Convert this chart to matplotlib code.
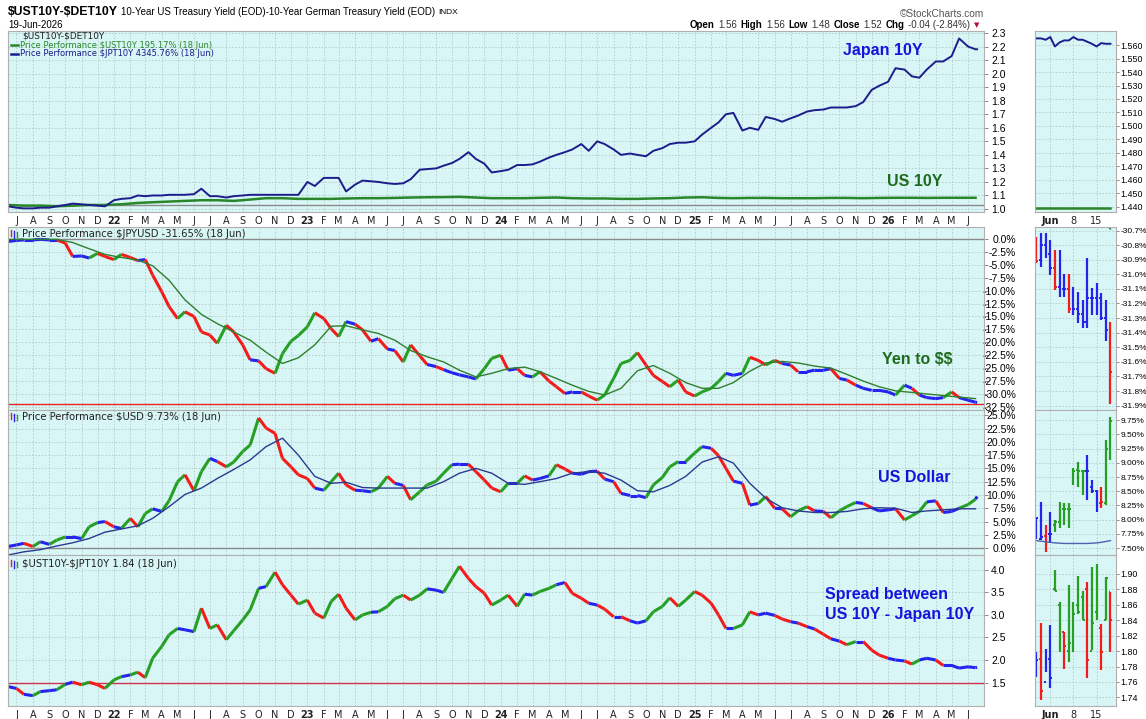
import matplotlib
matplotlib.use("Agg")
import matplotlib.pyplot as plt
import matplotlib.dates as mdates
from matplotlib.collections import LineCollection
from matplotlib.lines import Line2D
import numpy as np
import pandas as pd

plt.rcParams["font.family"] = ["Liberation Sans", "DejaVu Sans"]

# semi-monthly sample dates (1st / 15th) plus the last session
dates = list(pd.date_range("2021-06-15", "2026-06-15", freq="SMS")) + [pd.Timestamp("2026-06-18")]
month_dates = dates[:121:2]

# ---- top panel: yield performance lines (right axis units) ----
jp10 = [1.02, 1.01, 1.005, 1.005, 1.01, 1.01, 1.02, 1.03, 1.04, 1.035,
        1.03, 1.025, 1.02, 1.065, 1.075, 1.08, 1.10, 1.095, 1.10, 1.10,
        1.105, 1.105, 1.105, 1.11, 1.15, 1.095, 1.095, 1.085, 1.095, 1.10,
        1.105, 1.105, 1.105, 1.105, 1.105, 1.105, 1.105, 1.20, 1.17, 1.23,
        1.23, 1.23, 1.13, 1.18, 1.21, 1.205, 1.20, 1.19, 1.185, 1.19,
        1.22, 1.29, 1.295, 1.30, 1.32, 1.34, 1.37, 1.42, 1.37, 1.335,
        1.27, 1.28, 1.29, 1.325, 1.325, 1.33, 1.35, 1.38, 1.40, 1.42,
        1.44, 1.48, 1.43, 1.50, 1.48, 1.44, 1.40, 1.41, 1.40, 1.39,
        1.43, 1.45, 1.48, 1.49, 1.49, 1.50, 1.55, 1.60, 1.64, 1.70,
        1.71, 1.58, 1.60, 1.585, 1.68, 1.665, 1.645, 1.67, 1.69, 1.72,
        1.73, 1.735, 1.75, 1.75, 1.75, 1.76, 1.79, 1.88, 1.91, 1.94,
        2.04, 2.03, 1.98, 1.97, 2.03, 2.09, 2.09, 2.13, 2.26, 2.20,
        2.18, 2.18]
us10 = [1.03, 1.025, 1.025, 1.02, 1.025, 1.03, 1.03, 1.035, 1.045, 1.05,
        1.055, 1.06, 1.065, 1.065, 1.06, 1.07, 1.08, 1.08, 1.075, 1.075,
        1.075, 1.078, 1.08, 1.08, 1.082, 1.085, 1.087, 1.088, 1.09, 1.085,
        1.08, 1.08, 1.08, 1.083, 1.085, 1.08, 1.078, 1.078, 1.075, 1.075,
        1.078, 1.08, 1.085, 1.087, 1.082, 1.08, 1.082, 1.082, 1.08, 1.08,
        1.08, 1.082, 1.082, 1.08, 1.082, 1.083, 1.083, 1.082, 1.083, 1.083,
        1.083]
base_level = 1.03

# ---- JPYUSD price performance (%) ----
jpy = [-0.5, -0.3, -0.2, -0.2, -0.1, -0.2, -0.2, -0.8, -3.4, -3.3,
       -3.7, -2.8, -3.4, -4.0, -3.0, -3.6, -4.2, -4.0, -7.0, -10.2,
       -13.1, -15.4, -14.1, -15.0, -18.0, -18.6, -20.2, -16.7, -18.0, -20.5,
       -23.4, -23.6, -25.1, -26.0, -22.2, -19.8, -18.7, -17.0, -14.3, -15.4,
       -17.4, -18.9, -16.0, -16.5, -17.6, -19.8, -19.3, -21.3, -21.6, -23.8,
       -20.5, -22.6, -24.3, -24.7, -25.3, -25.9, -26.3, -26.7, -27.1, -25.1,
       -23.1, -22.5, -25.4, -25.1, -26.4, -26.7, -25.7, -27.5, -28.6, -29.9,
       -29.6, -29.6, -30.4, -31.2, -30.2, -27.0, -24.1, -23.5, -22.0, -24.4,
       -26.4, -27.6, -28.6, -27.3, -29.6, -30.4, -29.6, -28.9, -27.6, -26.0,
       -26.4, -26.0, -22.9, -23.5, -24.4, -23.5, -24.1, -24.4, -25.7, -25.7,
       -25.4, -25.4, -25.1, -27.0, -27.3, -28.3, -28.9, -29.3, -29.3, -29.6,
       -30.2, -28.3, -28.9, -30.2, -30.7, -30.9, -30.7, -29.6, -30.7, -31.2,
       -31.6, -31.65]
jpy_ma = [-0.1, -0.1, -0.1, -0.1, -0.7, -1.9, -3.0, -3.6, -4.1, -5.2,
          -8.0, -11.8, -14.6, -16.4, -18.0, -19.6, -21.9, -24.1, -23.0, -20.5,
          -16.9, -16.8, -17.6, -18.3, -19.6, -21.6, -22.8, -23.8, -25.4, -26.7,
          -26.0, -25.1, -24.8, -25.7, -27.0, -28.3, -29.5, -30.2, -28.9, -25.5,
          -24.5, -26.0, -27.8, -28.9, -28.9, -27.8, -25.6, -24.0, -23.7, -24.0,
          -24.6, -25.0, -26.2, -27.5, -28.6, -29.4, -29.7, -30.0, -30.3, -30.6,
          -30.9]
jpy_level = -32.0

# ---- $USD price performance (%) ----
usd = [0.3, 0.6, 0.9, 0.3, 1.2, 0.7, 1.5, 2.1, 2.1, 1.8,
       4.0, 4.8, 5.0, 4.0, 3.7, 5.6, 4.0, 6.5, 7.4, 6.9,
       8.9, 12.5, 13.8, 10.8, 14.4, 16.9, 16.3, 15.3, 16.2, 18.2,
       19.4, 24.5, 22.6, 21.6, 16.9, 15.3, 13.8, 13.1, 11.3, 10.9,
       12.5, 14.1, 11.9, 10.9, 10.8, 10.6, 11.3, 13.5, 12.2, 11.8,
       9.1, 10.6, 11.9, 12.6, 14.1, 15.7, 15.8, 15.8, 14.4, 12.8,
       11.3, 10.6, 12.2, 12.2, 13.6, 12.8, 13.1, 13.6, 15.7, 14.9,
       14.1, 13.9, 14.4, 14.5, 13.0, 12.5, 10.3, 9.9, 9.9, 9.5,
       11.9, 13.3, 15.3, 16.3, 16.3, 17.9, 19.1, 18.8, 17.4, 15.0,
       12.6, 12.2, 8.1, 8.4, 9.7, 7.5, 7.4, 5.9, 7.0, 7.8,
       7.0, 6.9, 5.7, 7.0, 7.8, 8.6, 8.4, 7.6, 7.0, 7.2,
       7.4, 5.3, 6.1, 6.9, 8.7, 8.9, 6.7, 6.9, 7.5, 8.2,
       9.2, 9.73]
usd_ma = [-1.3, -0.7, -0.3, 0.4, 1.0, 1.8, 3.0, 3.6, 4.2, 5.6,
          7.8, 10.1, 11.3, 13.1, 14.8, 16.6, 19.1, 20.7, 17.5, 13.5,
          12.2, 12.4, 11.4, 11.3, 11.3, 11.3, 11.3, 12.5, 14.1, 15.0,
          14.1, 12.2, 12.0, 12.5, 13.1, 14.1, 14.4, 14.1, 12.8, 10.8,
          10.6, 11.8, 13.5, 16.2, 17.2, 16.0, 12.2, 9.4, 7.6, 7.0,
          6.7, 6.7, 6.9, 7.4, 7.6, 7.5, 6.7, 7.0, 7.2, 7.4,
          7.4]

# ---- $UST10Y-$JPT10Y spread ----
spread = [1.41, 1.37, 1.24, 1.21, 1.30, 1.32, 1.34, 1.46, 1.51, 1.45,
          1.51, 1.45, 1.37, 1.56, 1.63, 1.67, 1.73, 1.61, 2.04, 2.30,
          2.56, 2.70, 2.67, 2.63, 3.15, 2.70, 2.78, 2.45, 2.65, 2.89,
          3.11, 3.59, 3.63, 3.95, 3.67, 3.44, 3.24, 3.33, 3.04, 2.93,
          3.30, 3.46, 3.15, 2.89, 3.00, 3.06, 3.07, 3.19, 3.36, 3.44,
          3.33, 3.44, 3.58, 3.55, 3.50, 3.81, 4.08, 3.81, 3.63, 3.48,
          3.22, 3.33, 3.44, 3.19, 3.46, 3.44, 3.52, 3.59, 3.67, 3.72,
          3.48, 3.37, 3.26, 3.22, 3.13, 2.96, 2.96, 2.87, 2.82, 2.87,
          3.07, 3.19, 3.38, 3.19, 3.33, 3.52, 3.44, 3.26, 3.00, 2.70,
          2.70, 2.78, 3.07, 3.00, 3.04, 2.99, 2.91, 2.85, 2.82, 2.74,
          2.69, 2.57, 2.47, 2.42, 2.34, 2.41, 2.41, 2.22, 2.11, 2.04,
          2.00, 1.98, 1.91, 2.00, 2.04, 2.00, 1.88, 1.88, 1.82, 1.85,
          1.83, 1.84]
spread_level = 1.5

# ---- last three weeks (27 May - 18 Jun 2026), one entry per session ----
z_ticks = [3, 8, 13]
z_tick_labels = ["Jun", "8", "15"]
z_jp10 = [1.565, 1.565, 1.564, 1.566, 1.559, 1.562, 1.5635, 1.5635, 1.566,
          1.564, 1.564, 1.5625, 1.561, 1.559, 1.5615, 1.561, 1.561]
z_us10 = [1.4388, 1.4388, 1.4388, 1.4388, 1.4388, 1.4388, 1.4388, 1.4388, 1.4388,
          1.4388, 1.4388, 1.4388, 1.4388, 1.4388, 1.4388, 1.4388, 1.4388]

z_jpy_open = [-30.78, -30.90, -30.80, -30.86, -30.96, -31.09, -31.10, -31.10, -31.24,
              -31.24, -31.27, -31.33, -31.16, -31.16, -31.16, -31.30, -31.38]
z_jpy_high = [-30.745, -30.717, -30.715, -30.765, -30.834, -30.834, -30.998, -30.998, -31.085,
              -31.119, -31.176, -30.89, -31.094, -31.058, -31.128, -31.176, -31.325]
z_jpy_low = [-30.92, -30.948, -30.888, -31.005, -31.108, -31.153, -31.153, -31.267, -31.279,
             -31.336, -31.37, -31.37, -31.279, -31.279, -31.313, -31.455, -31.888]
z_jpy_close = [-30.91, -30.80, -30.85, -30.96, -31.09, -31.09, -31.10, -31.24, -31.24,
               -31.27, -31.33, -31.16, -31.16, -31.16, -31.30, -31.38, -31.667]
z_jpy_col = "rbbbrbbrbbbbbbbbr"
z_jpy_ma_idx = [14, 15, 16]
z_jpy_ma = [-30.62, -30.66, -30.69]

z_usd_open = [7.70, 7.66, 7.72, 7.74, 7.90, 7.96, 8.18, 8.18, 8.86,
              8.88, 8.86, 8.86, 8.58, 8.51, 8.30, 8.30, 9.25]
z_usd_high = [8.023, 8.315, 7.905, 8.14, 7.99, 8.315, 8.30, 8.30, 8.90,
              9.02, 8.875, 9.14, 8.70, 8.52, 8.57, 9.40, 9.81]
z_usd_low = [7.653, 7.64, 7.435, 7.58, 7.79, 7.86, 7.905, 7.86, 8.61,
             8.58, 8.433, 8.345, 8.46, 8.14, 8.20, 8.26, 9.05]
z_usd_close = [8.02, 7.70, 7.65, 7.74, 7.96, 8.18, 8.18, 8.18, 8.86,
               8.86, 8.85, 8.86, 8.51, 8.29, 8.315, 9.25, 9.73]
z_usd_col = "bbrbgggggggbbbrgg"
z_usd_ma = [7.63, 7.62, 7.61, 7.60, 7.59, 7.585, 7.58, 7.58, 7.58,
            7.58, 7.58, 7.58, 7.585, 7.59, 7.60, 7.615, 7.63]

z_spr_open = [1.795, 1.79, 1.76, 1.79, 1.88, 1.86, 1.825, 1.80, 1.80,
              1.86, 1.87, 1.88, 1.80, 1.85, 1.83, 1.84, 1.876]
z_spr_high = [1.799, 1.836, 1.803, 1.833, 1.904, 1.863, 1.825, 1.885, 1.863,
              1.897, 1.878, 1.889, 1.909, 1.912, 1.835, 1.896, 1.876]
z_spr_low = [1.767, 1.737, 1.773, 1.752, 1.878, 1.799, 1.777, 1.786, 1.799,
             1.848, 1.84, 1.765, 1.801, 1.84, 1.775, 1.84, 1.799]
z_spr_close = [1.788, 1.749, 1.788, 1.765, 1.878, 1.85, 1.807, 1.81, 1.848,
               1.85, 1.84, 1.788, 1.836, 1.904, 1.799, 1.894, 1.84]
z_spr_col = "brbbggrggggrggrgr"

# ---------------------------------------------------------------
W, H = 1146, 719
BG = "#d8f6f5"
RED, BLUE, GREEN = "#f21c1c", "#2424ee", "#25a025"
COLS = {"r": RED, "b": BLUE, "g": GREEN}
NAVY = "#1c1c8c"

fig = plt.figure(figsize=(W / 100, H / 100), dpi=100)
renderer = fig.canvas.get_renderer()


def add_ax(x0, y0, x1, y1, lsize=7.5):
    ax = fig.add_axes([x0 / W, 1 - y1 / H, (x1 - x0) / W, (y1 - y0) / H])
    ax.set_facecolor(BG)
    for s in ax.spines.values():
        s.set_color("#b0b0b0")
        s.set_linewidth(0.8)
    ax.yaxis.tick_right()
    ax.tick_params(axis="y", labelsize=lsize, length=3, width=0.6, color="#777777", pad=2)
    ax.tick_params(axis="x", labelsize=7, length=0, pad=3)
    ax.grid(True, color="#b5c9c9", linestyle=(0, (2, 2)), linewidth=0.6)
    ax.set_axisbelow(True)
    return ax


def set_yticks(ax, lo, hi, n, fmt, right_align=False):
    ticks = np.round(np.linspace(lo, hi, n), 4)
    ax.set_yticks(ticks)
    ax.set_yticklabels([fmt.format(t) for t in ticks])
    if right_align:
        ax.tick_params(axis="y", pad=20)
        for lbl in ax.get_yticklabels():
            lbl.set_horizontalalignment("right")


def colored_path(ax, x, y, thr, lw=2.2):
    pts = np.column_stack([x, y])
    segs = np.stack([pts[:-1], pts[1:]], axis=1)
    d = np.diff(np.asarray(y))
    cols = [GREEN if v > thr else RED if v < -thr else BLUE for v in d]
    ax.add_collection(LineCollection(segs, colors=cols, linewidths=lw, capstyle="butt"))


def ohlc(ax, o, h, l, c, col):
    for j in range(len(c)):
        cc = COLS[col[j]]
        ax.vlines(j, l[j], h[j], color=cc, lw=1.6)
        ax.hlines(o[j], j - 0.4, j, color=cc, lw=1.4)
        ax.hlines(c[j], j, j + 0.4, color=cc, lw=1.4)


rows = [(31, 212), (227, 410), (410, 555), (555, 706)]
main_axes = [add_ax(8, a, 984, b) for a, b in rows]
zoom_sizes = [6.4, 6.0, 6.0, 6.4]
zoom_axes = [add_ax(1035, a, 1116, b, s) for (a, b), s in zip(rows, zoom_sizes)]
for ax in zoom_axes:
    ax.tick_params(axis="y", length=2, pad=1)

xd = mdates.date2num(dates)
xm = mdates.date2num(month_dates)
months = pd.date_range("2021-07-01", "2026-06-01", freq="MS")
month_labels = [d.strftime("%y") if d.month == 1 else d.strftime("%b")[0] for d in months]

for k, ax in enumerate(main_axes):
    ax.set_xlim(mdates.date2num(pd.Timestamp("2021-06-15")), mdates.date2num(pd.Timestamp("2026-07-01")))
    ax.set_xticks(mdates.date2num(months))
    if k in (0, 3):
        ax.set_xticklabels(month_labels, family="DejaVu Sans", color="#222222")
        for lbl in ax.get_xticklabels():
            if lbl.get_text().isdigit():
                lbl.set_fontweight("bold")
    else:
        ax.set_xticklabels([])

for k, ax in enumerate(zoom_axes):
    ax.set_xlim(-0.3, 17.2)
    ax.set_xticks(z_ticks)
    if k in (0, 3):
        ax.set_xticklabels(z_tick_labels, family="DejaVu Sans", color="#222222")
        ax.get_xticklabels()[0].set_fontweight("bold")
    else:
        ax.set_xticklabels([])

# panel 1
ax = main_axes[0]
ax.axhline(base_level, color="#8a8a8a", lw=1.0)
ax.plot(xm, us10, color="#2a862a", lw=1.8)
ax.plot(xd, jp10, color=NAVY, lw=1.4)
ax.set_ylim(0.978, 2.315)
set_yticks(ax, 1.0, 2.3, 14, "{:.1f}")

# panel 2
ax = main_axes[1]
ax.axhline(0, color="#8a8a8a", lw=1.0)
ax.axhline(jpy_level, color="#ee2020", lw=1.0)
colored_path(ax, xd, jpy, 0.6)
ax.plot(xm, jpy_ma, color="#2f7f2f", lw=1.0)
ax.set_ylim(-33.1, 2.3)
set_yticks(ax, 0, -32.5, 14, "{:.1f}%", right_align=True)

# panel 3
ax = main_axes[2]
ax.axhline(0, color="#8a8a8a", lw=1.0)
colored_path(ax, xd, usd, 0.6)
ax.plot(xm, usd_ma, color="#2a3a90", lw=1.0)
ax.set_ylim(-1.3, 26.0)
set_yticks(ax, 0, 25, 11, "{:.1f}%", right_align=True)

# panel 4
ax = main_axes[3]
ax.axhline(spread_level, color="#d03050", lw=1.0)
colored_path(ax, xd, spread, 0.06)
ax.set_ylim(0.98, 4.33)
set_yticks(ax, 1.5, 4.0, 6, "{:.1f}")

# zoom panels
ax = zoom_axes[0]
ax.plot(range(len(z_us10)), z_us10, color="#2a862a", lw=1.8)
ax.plot(range(len(z_jp10)), z_jp10, color=NAVY, lw=1.4)
ax.set_ylim(1.436, 1.5705)
set_yticks(ax, 1.44, 1.56, 13, "{:.3f}")

ax = zoom_axes[1]
ohlc(ax, z_jpy_open, z_jpy_high, z_jpy_low, z_jpy_close, z_jpy_col)
ax.plot(z_jpy_ma_idx, z_jpy_ma, color="#2f7f2f", lw=1.0)
ax.set_ylim(-31.93, -30.676)
set_yticks(ax, -30.7, -31.9, 13, "{:.1f}%")

ax = zoom_axes[2]
ohlc(ax, z_usd_open, z_usd_high, z_usd_low, z_usd_close, z_usd_col)
ax.plot(range(len(z_usd_ma)), z_usd_ma, color="#5060b0", lw=1.0)
ax.set_ylim(7.377, 9.93)
set_yticks(ax, 7.5, 9.75, 10, "{:.2f}%")

ax = zoom_axes[3]
ohlc(ax, z_spr_open, z_spr_high, z_spr_low, z_spr_close, z_spr_col)
ax.set_ylim(1.729, 1.924)
set_yticks(ax, 1.74, 1.90, 9, "{:.2f}")


# ---- text ----
def chain(x, y, parts, gap=3):
    for s, size, weight, col, fam in parts:
        t = fig.text(x / W, 1 - y / H, s, fontsize=size, fontweight=weight, color=col,
                     va="center", ha="left", family=fam)
        x += t.get_window_extent(renderer).width + gap
    return x


LS = "Liberation Sans"
DV = "DejaVu Sans"
chain(8, 12, [(r"\$UST10Y-\$DET10Y", 8.8, "bold", "black", LS),
              ("10-Year US Treasury Yield (EOD)-10-Year German Treasury Yield (EOD)", 7.0, "normal", "black", LS),
              ("INDX", 6.0, "normal", "black", LS)])
fig.text(8 / W, 1 - 25 / H, "19-Jun-2026", fontsize=7.0, va="center", family=LS)
fig.text(984 / W, 1 - 14 / H, "\u00a9StockCharts.com", fontsize=7.3, color="#555555",
         va="center", ha="right", family=LS)
chain(690, 25, [("Open", 7.0, "bold", "black", LS), ("1.56", 7.0, "normal", "#333333", LS),
                ("High", 7.0, "bold", "black", LS), ("1.56", 7.0, "normal", "#333333", LS),
                ("Low", 7.0, "bold", "black", LS), ("1.48", 7.0, "normal", "#333333", LS),
                ("Close", 7.0, "bold", "black", LS), ("1.52", 7.0, "normal", "#333333", LS),
                ("Chg", 7.0, "bold", "black", LS), ("-0.04 (-2.84%)", 7.0, "normal", "#333333", LS),
                ("\u25bc", 5.0, "normal", "#b01030", DV)], gap=3.5)

# panel 1 legend
fig.text(22 / W, 1 - 36 / H, r"\$UST10Y-\$DET10Y", fontsize=6.4, va="center", family=DV, color="#222222")
legend_rows = [(45, "#2a862a", r"Price Performance \$UST10Y 195.17% (18 Jun)"),
               (54, NAVY, r"Price Performance \$JPT10Y 4345.76% (18 Jun)")]
for y, col, s in legend_rows:
    fig.add_artist(Line2D([11 / W, 18 / W], [1 - y / H, 1 - y / H], color=col, lw=1.8))
    fig.text(20 / W, 1 - y / H, s, fontsize=6.0, color=col, va="center", family=DV)

# panel titles with small bar icon
titles = [(234, r"Price Performance \$JPYUSD -31.65% (18 Jun)"),
          (417, r"Price Performance \$USD 9.73% (18 Jun)"),
          (564, r"\$UST10Y-\$JPT10Y 1.84 (18 Jun)")]
for y, s in titles:
    fig.add_artist(Line2D([11 / W, 11 / W], [1 - (y - 4) / H, 1 - (y + 2) / H], color=RED, lw=1.0))
    fig.add_artist(Line2D([14 / W, 14 / W], [1 - (y - 3) / H, 1 - (y + 4) / H], color=BLUE, lw=1.0))
    fig.add_artist(Line2D([17 / W, 17 / W], [1 - (y - 2) / H, 1 - (y + 3) / H], color=GREEN, lw=1.0))
    fig.text(22 / W, 1 - y / H, s, fontsize=7.2, color="#222222", va="center", family=DV)

# big annotations
BIGBLUE = "#1414dc"
BIGGREEN = "#1e6b1e"
notes = [(843, 51, "Japan 10Y", BIGBLUE),
         (887, 181, "US 10Y", BIGGREEN),
         (882, 360, r"Yen to \$\$", BIGGREEN),
         (878, 477, "US Dollar", BIGBLUE),
         (825, 595, "Spread between", BIGBLUE),
         (825, 614, "US 10Y - Japan 10Y", BIGBLUE)]
for x, y, s, col in notes:
    fig.text(x / W, 1 - y / H, s, fontsize=11.5, fontweight="bold", color=col,
             va="center", ha="left", family=LS)

fig.savefig("out.png", dpi=100)
